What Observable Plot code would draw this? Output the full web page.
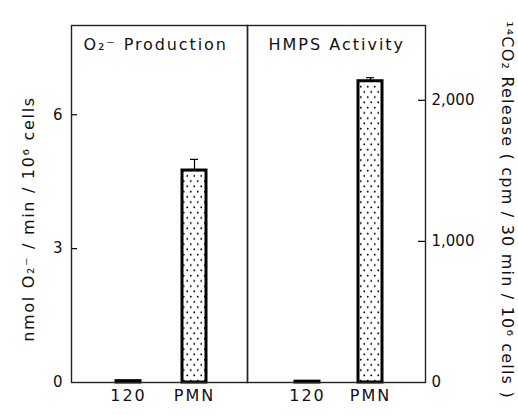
<!DOCTYPE html>
<html><head><meta charset="utf-8">
<script src="https://cdn.jsdelivr.net/npm/d3@7"></script>
<script src="https://cdn.jsdelivr.net/npm/@observablehq/plot@0.6"></script>
<style>
body{margin:0;background:#fff;}
#chart{position:relative;width:518px;height:415px;overflow:hidden;background:#fff;}
#chart svg{position:absolute;top:0;overflow:visible;}
</style></head><body><div id="chart"></div>
<script>
const groups = ["120", "PMN"];
const o2Values = [0.03, 4.75];
const o2Errors = [0, 0.25];
const hmpsValues = [6, 2135];
const hmpsErrors = [0, 25];
const o2Ticks = [0, 3, 6];
const hmpsTicks = [0, 1000, 2000];
const o2Title = "O₂⁻ Production";
const hmpsTitle = "HMPS Activity";
const o2Label = "nmol O₂⁻ / min / 10⁶ cells";
const hmpsLabel = "¹⁴CO₂ Release ( cpm / 30 min / 10⁶ cells )";

const o2Data = groups.map((g, i) => ({group: g, value: o2Values[i], err: o2Errors[i]}));
const hmpsData = groups.map((g, i) => ({group: g, value: hmpsValues[i], err: hmpsErrors[i]}));

const baseStyle = {fontFamily: "DejaVu Sans, sans-serif", fontSize: "14px", color: "#111", background: "transparent", overflow: "visible"};

function addPattern(svg, id) {
  const defs = d3.select(svg).insert("defs", ":first-child");
  const p = defs.append("pattern").attr("id", id).attr("width", 7).attr("height", 10.5).attr("patternUnits", "userSpaceOnUse");
  p.append("rect").attr("width", 7).attr("height", 10.5).attr("fill", "#fff");
  p.append("circle").attr("cx", 1.75).attr("cy", 2.6).attr("r", 0.95).attr("fill", "#000");
  p.append("circle").attr("cx", 5.25).attr("cy", 7.9).attr("r", 0.95).attr("fill", "#000");
}
const spacingByText = new Map([
  [groups[0], "2px"], [groups[1], "2px"],
  [o2Title, "1.9px"], [hmpsTitle, "2px"],
  [o2Label, "1.7px"], [hmpsLabel, "1.2px"]
]);
function spacing(svg) {
  d3.select(svg).selectAll("text").each(function () {
    const ls = spacingByText.get(this.textContent);
    if (ls) this.style.letterSpacing = ls;
  });
}

const left = Plot.plot({
  width: 248, height: 415, marginLeft: 71, marginRight: 1, marginTop: 25, marginBottom: 33,
  style: baseStyle,
  x: {domain: groups, paddingInner: 0.636, paddingOuter: 0.651, align: 0.523, axis: null},
  y: {domain: [0, 8], axis: null},
  marks: [
    Plot.barY(o2Data, {x: "group", y: "value", fill: "url(#dotsL)", stroke: "#000", strokeWidth: 3}),
    Plot.ruleX(o2Data.filter(d => d.err > 0), {x: "group", y1: "value", y2: d => d.value + d.err, stroke: "#000", strokeWidth: 1.2}),
    Plot.tickY(o2Data.filter(d => d.err > 0), {x: "group", y: d => d.value + d.err, insetLeft: 8, insetRight: 8, stroke: "#000", strokeWidth: 1.2}),
    Plot.tickY(o2Ticks.slice(1), {y: d => d, insetRight: 170, stroke: "#000", strokeWidth: 1.2}),
    Plot.axisY({ticks: o2Ticks, tickSize: 0, tickPadding: 9, label: null, fontSize: 15}),
    Plot.axisX({tickSize: 0, tickPadding: 7, label: null, fontSize: 16}),
    Plot.frame({stroke: "#222", strokeWidth: 1.4}),
    Plot.text([o2Title], {text: d => d, frameAnchor: "top-left", dx: 12, dy: 13, textAnchor: "start", fontSize: 16}),
    Plot.text([o2Label], {text: d => d, frameAnchor: "left", textAnchor: "middle", dx: -43, dy: 15, rotate: -90, fontSize: 16})
  ]
});
addPattern(left, "dotsL");
spacing(left);
left.style.left = "0px";

const right = Plot.plot({
  width: 278, height: 415, marginLeft: 7, marginRight: 93, marginTop: 25, marginBottom: 33,
  style: baseStyle,
  x: {domain: groups, paddingInner: 0.619, paddingOuter: 0.722, align: 0.527, axis: null},
  y: {domain: [0, 2530], axis: null},
  marks: [
    Plot.barY(hmpsData, {x: "group", y: "value", fill: "url(#dotsR)", stroke: "#000", strokeWidth: 3}),
    Plot.ruleX(hmpsData.filter(d => d.err > 0), {x: "group", y1: "value", y2: d => d.value + d.err, stroke: "#000", strokeWidth: 1.2}),
    Plot.tickY(hmpsData.filter(d => d.err > 0), {x: "group", y: d => d.value + d.err, insetLeft: 8, insetRight: 8, stroke: "#000", strokeWidth: 1.2}),
    Plot.tickY(hmpsTicks.slice(1), {y: d => d, insetLeft: 171, stroke: "#000", strokeWidth: 1.2}),
    Plot.axisY({anchor: "right", ticks: hmpsTicks, tickFormat: d3.format(","), tickSize: 0, tickPadding: 6, label: null, fontSize: 15}),
    Plot.axisX({tickSize: 0, tickPadding: 7, label: null, fontSize: 16}),
    Plot.frame({stroke: "#222", strokeWidth: 1.4}),
    Plot.text([hmpsTitle], {text: d => d, frameAnchor: "top-left", dx: 21, dy: 13, textAnchor: "start", fontSize: 16}),
    Plot.text([hmpsLabel], {text: d => d, frameAnchor: "right", textAnchor: "middle", dx: 82, dy: 6, rotate: 90, fontSize: 16})
  ]
});
addPattern(right, "dotsR");
spacing(right);
right.style.left = "240px";

document.getElementById("chart").append(left, right);
</script></body></html>
